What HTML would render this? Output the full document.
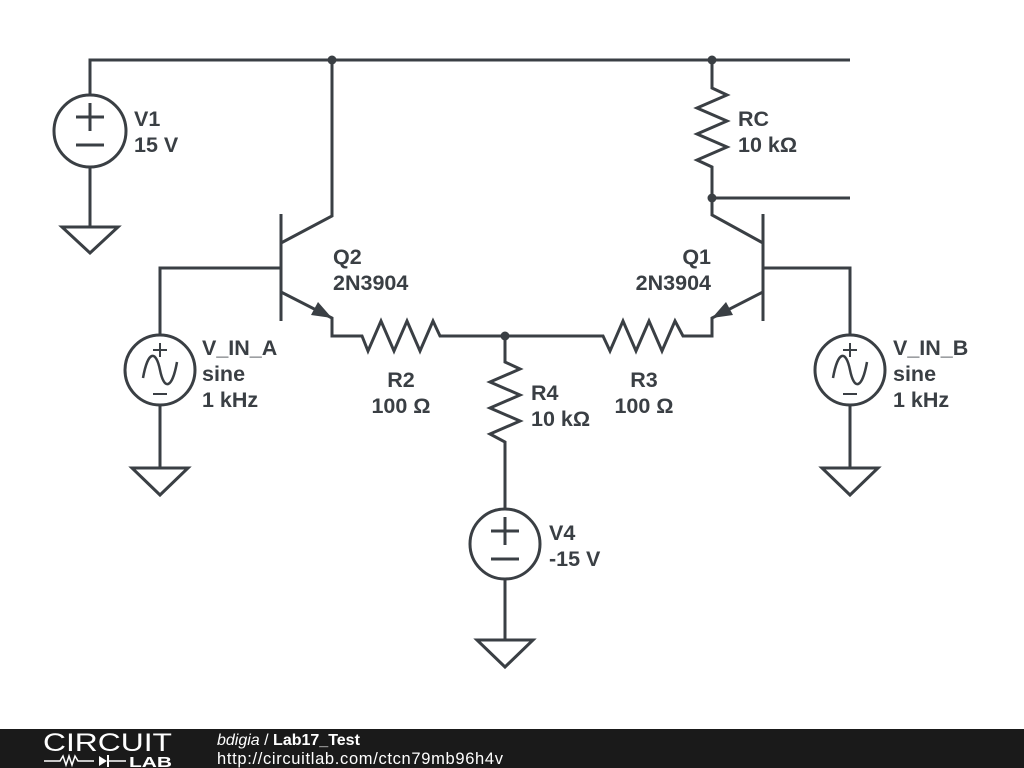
<!DOCTYPE html>
<html><head><style>
html,body{margin:0;padding:0;background:#fff;}
svg{display:block}
text{font-family:"Liberation Sans",sans-serif;font-weight:bold;font-size:21.5px;fill:#3a3f44}
</style></head><body>
<svg width="1024" height="768" viewBox="0 0 1024 768" xmlns="http://www.w3.org/2000/svg">
<g stroke="#3a3f44" stroke-width="3" fill="none" stroke-linejoin="miter">
<polyline points="90,94 90,60 850,60"/>
<circle cx="90" cy="131" r="36"/>
<line x1="76" y1="117" x2="104" y2="117"/><line x1="90" y1="103" x2="90" y2="131"/>
<line x1="76" y1="145" x2="104" y2="145"/>
<polyline points="90,167 90,227"/>
<polygon points="62,227 118,227 90,253"/>
<polyline points="332,60 332,216 281,243"/>
<line x1="281" y1="214" x2="281" y2="321"/>
<polyline points="160,334 160,268 281,268"/>
<polyline points="281,292 332,318 332,336 362,336 368,351 381,321 394,351 407,321 420,351 433,321 440,336 505,336 603,336 610,351 623,321 636,351 649,321 662,351 675,321 683,336 712,336 712,318 763,292"/>
<line x1="763" y1="214" x2="763" y2="321"/>
<polyline points="712,60 712,88 727,95 697,108 727,121 697,134 727,147 697,160 712,167 712,215 763,243"/>
<line x1="712" y1="198" x2="850" y2="198"/>
<polyline points="763,268 850,268 850,334"/>
<polyline points="505,336 505,362 520,369 490,382 520,395 490,408 520,421 490,434 505,442 505,509"/>
<circle cx="505" cy="544" r="35"/>
<line x1="491" y1="531" x2="519" y2="531"/><line x1="505" y1="517" x2="505" y2="545"/>
<line x1="491" y1="559" x2="519" y2="559"/>
<line x1="505" y1="579" x2="505" y2="640"/>
<polygon points="477,640 533,640 505,667"/>
<circle cx="160" cy="370" r="35"/>
<path d="M143,378 C148,350 156,350 160,370 C164,390 172,390 177,362" stroke-width="2.5"/>
<line x1="153" y1="350" x2="167" y2="350" stroke-width="2"/><line x1="160" y1="343" x2="160" y2="357" stroke-width="2"/>
<line x1="153" y1="394" x2="167" y2="394" stroke-width="2"/>
<line x1="160" y1="405" x2="160" y2="468"/>
<polygon points="132,468 188,468 160,495"/>
<circle cx="850" cy="370" r="35"/>
<path d="M833,378 C838,350 846,350 850,370 C854,390 862,390 867,362" stroke-width="2.5"/>
<line x1="843" y1="350" x2="857" y2="350" stroke-width="2"/><line x1="850" y1="343" x2="850" y2="357" stroke-width="2"/>
<line x1="843" y1="394" x2="857" y2="394" stroke-width="2"/>
<line x1="850" y1="405" x2="850" y2="468"/>
<polygon points="822,468 878,468 850,495"/>
</g>
<polygon points="332,318 311,315 318,302" fill="#3a3f44"/>
<polygon points="712,318 726,302 733,315" fill="#3a3f44"/>
<g fill="#3a3f44"><circle cx="332" cy="60" r="4.5"/><circle cx="712" cy="60" r="4.5"/><circle cx="712" cy="198" r="4.5"/><circle cx="505" cy="336" r="4.5"/></g>
<text x="134" y="126">V1</text><text x="134" y="152">15 V</text>
<text x="333" y="264">Q2</text><text x="333" y="290">2N3904</text>
<text x="711" y="264" text-anchor="end">Q1</text><text x="711" y="290" text-anchor="end">2N3904</text>
<text x="738" y="126">RC</text><text x="738" y="152">10 kΩ</text>
<text x="202" y="355">V_IN_A</text><text x="202" y="381">sine</text><text x="202" y="407">1 kHz</text>
<text x="893" y="355">V_IN_B</text><text x="893" y="381">sine</text><text x="893" y="407">1 kHz</text>
<text x="401" y="387" text-anchor="middle">R2</text><text x="401" y="413" text-anchor="middle">100 Ω</text>
<text x="644" y="387" text-anchor="middle">R3</text><text x="644" y="413" text-anchor="middle">100 Ω</text>
<text x="531" y="400">R4</text><text x="531" y="426">10 kΩ</text>
<text x="549" y="540">V4</text><text x="549" y="566">-15 V</text>
<rect x="0" y="729" width="1024" height="39" fill="#1a1a1a"/>
<text x="43" y="751" textLength="129" lengthAdjust="spacingAndGlyphs" style="font-weight:normal;font-size:25px;fill:#fff">CIRCUIT</text>
<polyline points="44,761 60,761 63,756 66,765 69,756 72,765 75,756 78,761 94,761" stroke="#fff" stroke-width="1.5" fill="none"/>
<polygon points="99,756 99,766 107,761" fill="#fff"/><line x1="108" y1="755" x2="108" y2="767" stroke="#fff" stroke-width="2"/>
<line x1="108" y1="761" x2="126" y2="761" stroke="#fff" stroke-width="1.5"/>
<text x="129" y="767" textLength="43" lengthAdjust="spacingAndGlyphs" style="font-size:15px;fill:#fff">LAB</text>
<text x="217" y="745" style="font-size:16px;fill:#fff;font-weight:normal"><tspan font-style="italic">bdigia</tspan> / <tspan font-weight="bold">Lab17_Test</tspan></text>
<text x="217" y="764" textLength="286" style="font-size:16.5px;fill:#fff;font-weight:normal">http://circuitlab.com/ctcn79mb96h4v</text>
</svg>
</body></html>
